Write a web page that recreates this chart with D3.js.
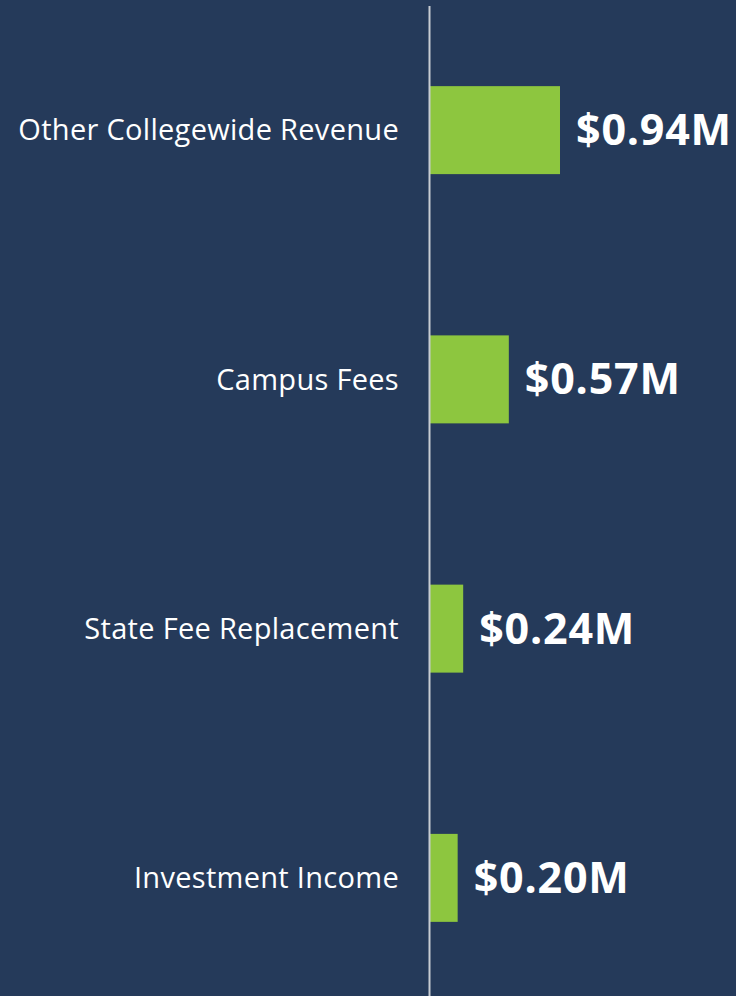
<!DOCTYPE html>
<html>
<head>
<meta charset="utf-8">
<script src="https://cdn.jsdelivr.net/npm/d3@7"></script>
<style>
  html, body { margin: 0; padding: 0; background: #253a5a; }
  svg { display: block; }
  .cat-label { font-family: "Open Sans", sans-serif; font-size: 29px; letter-spacing: 0.3px; fill: #ffffff; }
  .val-label { font-family: "Open Sans", sans-serif; font-size: 43px; font-weight: 700; letter-spacing: 0.8px; fill: #ffffff; }
</style>
</head>
<body>
<div id="chart"></div>
<script>
(function() {
  var categories = ["Other Collegewide Revenue", "Campus Fees", "State Fee Replacement", "Investment Income"]
  var values = [0.94, 0.57, 0.24, 0.20]
  var valueLabels = ["$0.94M", "$0.57M", "$0.24M", "$0.20M"]

  var widthSvg = 736
  var heightSvg = 996
  var axisX = 430

  var svg = d3.select("#chart").append("svg")
    .attr("width", widthSvg)
    .attr("height", heightSvg)

  svg.append("rect")
    .attr("width", widthSvg)
    .attr("height", heightSvg)
    .attr("fill", "#253a5a")

  var xScale = d3.scaleLinear()
    .domain([0, 0.94])
    .range([axisX, 560])

  var yScale = d3.scaleBand()
    .domain(categories)
    .range([5.5, 1002.5])
    .paddingInner(0.647)
    .paddingOuter(0.3235)

  var data = categories.map(function(c, i) {
    return { name: c, value: values[i], label: valueLabels[i] }
  })

  // bars
  svg.append("g").selectAll("rect")
    .data(data)
    .enter().append("rect")
    .attr("x", xScale(0))
    .attr("y", function(d) { return yScale(d.name) })
    .attr("width", function(d) { return xScale(d.value) - xScale(0) })
    .attr("height", yScale.bandwidth())
    .attr("fill", "#8dc63f")

  // axis line
  svg.append("line")
    .attr("x1", axisX - 0.5)
    .attr("x2", axisX - 0.5)
    .attr("y1", 6)
    .attr("y2", heightSvg)
    .attr("stroke", "#c8ccd2")
    .attr("stroke-width", 2)

  // category labels
  svg.append("g").selectAll("text")
    .data(data)
    .enter().append("text")
    .attr("class", "cat-label")
    .attr("x", axisX - 31)
    .attr("y", function(d) { return yScale(d.name) + yScale.bandwidth() / 2 })
    .attr("dy", "0.35em")
    .attr("text-anchor", "end")
    .text(function(d) { return d.name })

  // value labels
  svg.append("g").selectAll("text")
    .data(data)
    .enter().append("text")
    .attr("class", "val-label")
    .attr("x", function(d) { return xScale(d.value) + 16 })
    .attr("y", function(d) { return yScale(d.name) + yScale.bandwidth() / 2 })
    .attr("dy", "0.35em")
    .text(function(d) { return d.label })
})();
</script>
</body>
</html>
